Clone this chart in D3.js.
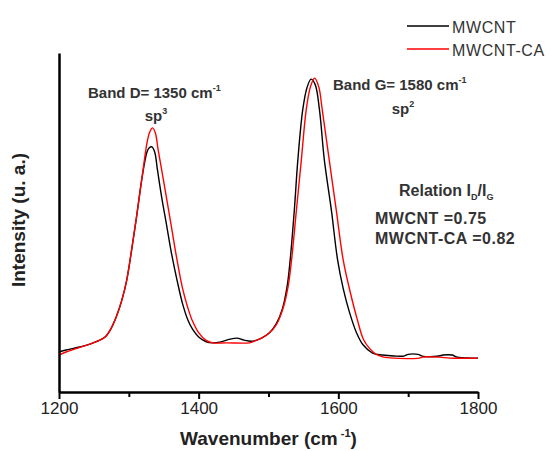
<!DOCTYPE html>
<html>
<head>
<meta charset="utf-8">
<script src="https://cdn.jsdelivr.net/npm/d3@7/dist/d3.min.js"></script>
<style>
  html, body { margin: 0; padding: 0; background: #fff; }
  svg { display: block; font-family: "Liberation Sans", Arial, sans-serif; }
</style>
</head>
<body>
<svg id="chart" width="550" height="451"></svg>
<script>
// ---- data ----
const seriesNames = ["MWCNT", "MWCNT-CA"];
const seriesColors = ["#000000", "#ff0000"];

const mwcntWavenumber = [1200,1210,1223,1241,1255,1266,1275,1283,1290,1297,1304,1311,1319,1326,1329,1333,1337,1341,1347,1354,1361,1369,1377,1385,1391,1400,1410,1420,1430,1445,1455,1465,1477,1490,1501,1511,1520,1527,1531,1537,1542,1549,1555,1561,1567,1573,1580,1590,1599,1607,1616,1626,1635,1649,1663,1680,1694,1700,1714,1720,1744,1750,1763,1770,1790,1800];
const mwcntIntensity = [11.8,12.4,13.0,13.9,15.0,16.2,18.9,22.7,27.1,33.0,41.9,51.6,63.4,70.8,72.0,72.3,70.8,65.5,57.5,49.3,41.0,33.0,26.0,21.0,18.6,16.2,14.9,14.5,14.7,15.6,15.9,15.3,15.0,15.9,17.4,20.1,24.6,31.6,38.9,53.7,68.4,83.2,89.7,92.3,90.6,83.2,68.4,53.7,38.9,30.5,23.5,17.5,14.0,11.5,10.9,10.6,10.6,11.1,11.1,10.6,10.6,10.9,10.9,10.3,10.0,10.0];

const mwcntCaWavenumber = [1200,1210,1223,1241,1255,1266,1275,1283,1290,1297,1304,1311,1319,1326,1330,1334,1338,1342,1347,1354,1361,1369,1377,1385,1391,1400,1410,1420,1440,1473,1480,1490,1501,1511,1521,1528,1533,1540,1547,1554,1560,1566,1572,1577,1587,1597,1607,1617,1627,1636,1645,1655,1665,1680,1716,1720,1745,1760,1800];
const mwcntCaIntensity = [10.9,11.8,12.7,13.9,15.0,16.2,18.9,22.7,27.1,33.0,41.9,51.6,63.4,73.5,76.7,77.9,76.4,71.4,65.5,57.2,48.7,39.0,30.5,24.5,21.0,17.5,15.3,14.5,14.5,14.5,15.0,15.9,17.4,19.8,24.8,31.0,38.9,53.7,68.4,83.2,90.0,92.6,90.0,83.2,68.4,53.7,38.9,29.5,21.5,15.5,12.8,11.0,10.3,10.0,10.0,10.3,10.3,10.0,10.0];

const xTickValues = [1200,1300,1400,1500,1600,1700,1800];
const xTickLabels = ["1200","","1400","","1600","","1800"];
const xDomain = [1200, 1800];
const yDomain = [0, 100];

// ---- layout ----
const svg = d3.select("#chart");
const margin = {left: 59, top: 53, right: 72, bottom: 59};
const W = 550, H = 451;

const x = d3.scaleLinear().domain(xDomain).range([margin.left, W - margin.right]);
const y = d3.scaleLinear().domain(yDomain).range([H - margin.bottom, margin.top]);

const series = [
  {name: seriesNames[0], color: seriesColors[0], xs: mwcntWavenumber, ys: mwcntIntensity},
  {name: seriesNames[1], color: seriesColors[1], xs: mwcntCaWavenumber, ys: mwcntCaIntensity}
];

const line = d3.line()
  .x(d => x(d[0]))
  .y(d => y(d[1]))
  .curve(d3.curveCatmullRom.alpha(0.5));

series.forEach(s => {
  svg.append("path")
    .datum(s.xs.map((v, i) => [v, s.ys[i]]))
    .attr("fill", "none")
    .attr("stroke", s.color)
    .attr("stroke-width", 1.4)
    .attr("d", line);
});

// x axis
const xAxis = d3.axisBottom(x)
  .tickValues(xTickValues)
  .tickFormat((d, i) => xTickLabels[i])
  .tickSizeInner(7)
  .tickSizeOuter(0)
  .tickPadding(3);

const gx = svg.append("g")
  .attr("transform", `translate(0,${H - margin.bottom})`)
  .call(xAxis);
gx.select(".domain").attr("stroke", "#000").attr("stroke-width", 2.5);
gx.selectAll(".tick line").attr("stroke", "#000").attr("stroke-width", 2)
  .attr("y2", (d, i) => xTickLabels[i] ? 7 : 5);
gx.selectAll(".tick text")
  .attr("fill", "#222")
  .style("font-size", "17px")
  .style("font-family", "'Liberation Sans', Arial, sans-serif");

// y axis (line only, no ticks)
const yAxis = d3.axisLeft(y).tickValues([]).tickSizeOuter(0);
const gy = svg.append("g")
  .attr("transform", `translate(${margin.left},0)`)
  .call(yAxis);
gy.select(".domain").attr("stroke", "#000").attr("stroke-width", 2.5);

// axis titles
const xt = svg.append("text")
  .attr("x", (margin.left + W - margin.right) / 2)
  .attr("y", 445)
  .attr("text-anchor", "middle")
  .attr("font-weight", "bold")
  .attr("font-size", 19)
  .attr("fill", "#222");
xt.append("tspan").text("Wavenumber (cm");
xt.append("tspan").attr("dy", -8).attr("font-size", 11).text(" -1");
xt.append("tspan").attr("dy", 8).text(")");

svg.append("text")
  .attr("transform", `translate(25,220) rotate(-90)`)
  .attr("text-anchor", "middle")
  .attr("font-weight", "bold")
  .attr("font-size", 19)
  .attr("fill", "#222")
  .text("Intensity (u. a.)");

// legend
series.forEach((s, i) => {
  const ly = 26 + i * 23;
  svg.append("line")
    .attr("x1", 407).attr("x2", 449)
    .attr("y1", ly).attr("y2", ly)
    .attr("stroke", s.color).attr("stroke-width", 1.4);
  svg.append("text")
    .attr("x", 452).attr("y", ly + 7)
    .attr("font-size", 16)
    .attr("letter-spacing", 0.6)
    .attr("fill", "#333")
    .text(s.name);
});

// annotations
function bandLabel(x0, yb, band, value, spx, spy, spSup) {
  const t = svg.append("text")
    .attr("x", x0).attr("y", yb)
    .attr("font-weight", "bold").attr("font-size", 15).attr("fill", "#333");
  t.append("tspan").text(`Band ${band}= ${value} cm`);
  t.append("tspan").attr("dy", -7).attr("font-size", 9).text("-1");
  const s = svg.append("text")
    .attr("x", spx).attr("y", spy)
    .attr("text-anchor", "middle")
    .attr("font-weight", "bold").attr("font-size", 15).attr("fill", "#333");
  s.append("tspan").text("sp");
  s.append("tspan").attr("dy", -7).attr("font-size", 9).text(spSup);
}
bandLabel(88, 98, "D", "1350", 156, 121, "3");
bandLabel(333, 90, "G", "1580", 403, 114, "2");

const rel = svg.append("text")
  .attr("x", 399).attr("y", 196)
  .attr("font-weight", "bold").attr("font-size", 16).attr("fill", "#333");
rel.append("tspan").text("Relation I");
rel.append("tspan").attr("dy", 4).attr("font-size", 9).text("D");
rel.append("tspan").attr("dy", -4).text("/I");
rel.append("tspan").attr("dy", 4).attr("font-size", 9).text("G");

svg.append("text")
  .attr("x", 375).attr("y", 224)
  .attr("font-weight", "bold").attr("font-size", 16).attr("fill", "#333")
  .attr("letter-spacing", 0.5)
  .text("MWCNT =0.75");
svg.append("text")
  .attr("x", 375).attr("y", 244)
  .attr("font-weight", "bold").attr("font-size", 16).attr("fill", "#333")
  .attr("letter-spacing", 0.5)
  .text("MWCNT-CA  =0.82");
</script>
</body>
</html>
